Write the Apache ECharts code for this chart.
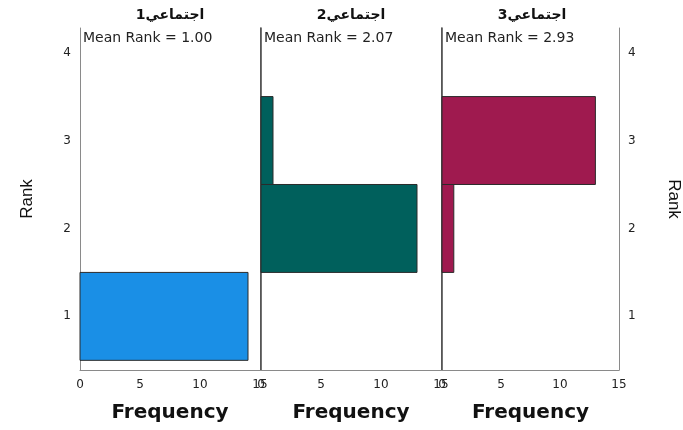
<!DOCTYPE html>
<html>
<head>
<meta charset="utf-8">
<script src="https://cdn.jsdelivr.net/npm/echarts@6/dist/echarts.min.js"></script>
<style>
  html, body { margin: 0; padding: 0; background: #fff; }
  #chart { width: 683px; height: 430px; }
</style>
</head>
<body>
<div id="chart"></div>
<script>
// related-samples Friedman: rank histograms, one panel per variable
const panelNames = ['اجتماعي1', 'اجتماعي2', 'اجتماعي3']
const meanRanks = ['1.00', '2.07', '2.93']
const ranks = [1, 2, 3, 4]
const rankTicks = [1, 2, 3, 4]
const freqTicks = [0, 5, 10, 15]
// frequency per rank (same order as ranks)
const freqPanel1 = [14, 0, 0, 0]
const freqPanel2 = [0, 13, 1, 0]
const freqPanel3 = [0, 1, 13, 0]
const panelColors = ['#1a8fe6', '#00605c', '#9f1a4f']

const freqs = [freqPanel1, freqPanel2, freqPanel3]
const FONT = 'DejaVu Sans'
const gridLefts = [80, 261, 442]
const GRID_W = 180
const GRID_TOP = 28
const GRID_H = 342

const chart = echarts.init(document.getElementById('chart'), null, { renderer: 'canvas' })

const grid = gridLefts.map((l) => ({ left: l, top: GRID_TOP, width: GRID_W, height: GRID_H }))

const xAxis = gridLefts.map((_, i) => ({
  type: 'value',
  gridIndex: i,
  min: freqTicks[0],
  max: freqTicks[freqTicks.length - 1],
  interval: 5,
  axisLine: { show: true, lineStyle: { color: '#8a8a8a', width: 1 } },
  axisTick: { show: false },
  splitLine: { show: false },
  axisLabel: { color: '#222', fontFamily: FONT, fontSize: 12, margin: 9 },
  name: 'Frequency',
  nameLocation: 'middle',
  nameGap: 33,
  nameTextStyle: { color: '#111', fontFamily: FONT, fontSize: 20, fontWeight: 'bold' },
}))

function rankAxis(i, side) {
  const withLabels = (i === 0 && side === 'left') || (i === 2 && side === 'right')
  const dark = side === 'left' && i > 0
  return {
    type: 'value',
    gridIndex: i,
    position: side,
    min: 0.39,
    max: 4.28,
    axisLine: {
      show: true,
      onZero: false,
      lineStyle: { color: dark ? '#444' : '#8a8a8a', width: dark ? 1.5 : 1 },
    },
    axisTick: { show: false },
    splitLine: { show: false },
    axisLabel: {
      show: withLabels,
      customValues: rankTicks,
      color: '#222',
      fontFamily: FONT,
      fontSize: 12,
      margin: 9,
    },
    name: withLabels ? 'Rank' : '',
    nameLocation: 'middle',
    nameGap: withLabels ? (side === 'left' ? 44 : 46) : 0,
    nameRotate: side === 'left' ? 90 : -90,
    nameTextStyle: { color: '#111', fontFamily: 'Liberation Sans', fontSize: 17 },
  }
}

const yAxis = []
gridLefts.forEach((_, i) => {
  yAxis.push(rankAxis(i, 'left'))
  yAxis.push(rankAxis(i, 'right'))
})

const series = freqs.map((f, i) => ({
  type: 'custom',
  xAxisIndex: i,
  yAxisIndex: i * 2,
  encode: { x: 1, y: 0 },
  data: ranks.map((r, k) => [r, f[k]]).filter((d) => d[1] > 0),
  renderItem(params, api) {
    const r = api.value(0)
    const v = api.value(1)
    const p0 = api.coord([0, r + 0.5])
    const p1 = api.coord([v, r - 0.5])
    return {
      type: 'rect',
      shape: { x: p0[0], y: p0[1], width: p1[0] - p0[0], height: p1[1] - p0[1] },
      style: { fill: panelColors[i], stroke: '#2b2b2b', lineWidth: 1 },
    }
  },
}))

const title = []
gridLefts.forEach((l, i) => {
  title.push({
    text: panelNames[i],
    left: l + GRID_W / 2,
    textAlign: 'center',
    top: 8,
    padding: 0,
    textStyle: { color: '#111', fontFamily: FONT, fontSize: 14, fontWeight: 'bold' },
  })
  title.push({
    text: 'Mean Rank = ' + meanRanks[i],
    left: l + 3,
    top: 31,
    padding: 0,
    textStyle: { color: '#222', fontFamily: FONT, fontSize: 14, fontWeight: 'normal' },
  })
})

chart.setOption({
  animation: false,
  backgroundColor: '#fff',
  title,
  grid,
  xAxis,
  yAxis,
  series,
})
</script>
</body>
</html>
